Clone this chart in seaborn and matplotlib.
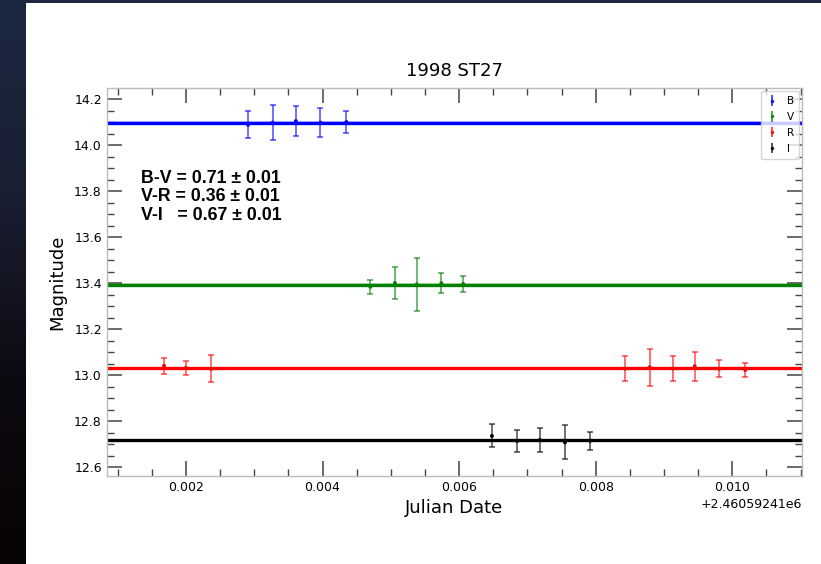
import numpy as np
import pandas as pd
import matplotlib
matplotlib.use("Agg")
import matplotlib.pyplot as plt
import seaborn as sns
from matplotlib.ticker import MultipleLocator

# Julian Date reference and time offsets (days) of each observation
JD0 = 2460592.41

b_t = [0.00291, 0.00327, 0.00361, 0.00397, 0.00435]
b_mag = [14.088, 14.097, 14.104, 14.097, 14.100]
b_err = [0.059, 0.075, 0.065, 0.062, 0.046]

v_t = [0.00470, 0.00506, 0.00538, 0.00574, 0.00606]
v_mag = [13.384, 13.400, 13.394, 13.399, 13.396]
v_err = [0.030, 0.071, 0.114, 0.044, 0.036]

r_t = [0.00168, 0.00200, 0.00237, 0.00843, 0.00879, 0.00913, 0.00945, 0.00981, 0.01019]
r_mag = [13.040, 13.031, 13.027, 13.028, 13.034, 13.028, 13.038, 13.027, 13.022]
r_err = [0.036, 0.031, 0.058, 0.053, 0.080, 0.056, 0.062, 0.037, 0.030]

i_t = [0.00648, 0.00685, 0.00718, 0.00755, 0.00792]
i_mag = [12.735, 12.713, 12.717, 12.707, 12.714]
i_err = [0.050, 0.049, 0.051, 0.074, 0.038]

# mean magnitude per filter
b_mean, v_mean, r_mean, i_mean = 14.097, 13.393, 13.030, 12.717

colour_lines = ["B-V = 0.71 ± 0.01", "V-R = 0.36 ± 0.01", "V-I   = 0.67 ± 0.01"]

sns.set_theme(style="ticks")
plt.rcParams["font.family"] = ["DejaVu Sans"]
plt.rcParams.update({"text.color": "black", "axes.labelcolor": "black",
                     "xtick.labelcolor": "black", "ytick.labelcolor": "black"})

fig = plt.figure(figsize=(8.21, 5.64), dpi=100)
fig.patch.set_facecolor("white")

# dark slide border on top and left
grad = np.linspace(0, 1, 256)[:, None]
cmap = matplotlib.colors.LinearSegmentedColormap.from_list(
    "border", ["#1c2842", "#1a1f33", "#0e0a12", "#070304"])
bl = fig.add_axes([0, 0, 25 / 821, 1])
bl.imshow(grad, aspect="auto", cmap=cmap, extent=[0, 1, 0, 1])
bl.axis("off")
bt = fig.add_axes([0, 1 - 3 / 564, 1, 3 / 564])
bt.imshow(np.zeros((1, 2)), aspect="auto", cmap=matplotlib.colors.ListedColormap(["#1c2842"]))
bt.axis("off")

ax = fig.add_axes([106.7 / 821, 1 - 476 / 564, (802.3 - 106.7) / 821, (476 - 88) / 564])

series = [
    ("B", b_t, b_mag, b_err, b_mean, "blue"),
    ("V", v_t, v_mag, v_err, v_mean, "green"),
    ("R", r_t, r_mag, r_err, r_mean, "red"),
    ("I", i_t, i_mag, i_err, i_mean, "black"),
]

handles = []
for name, t, m, e, mean, col in series:
    jd = JD0 + np.asarray(t)
    ax.axhspan(mean - 0.006, mean + 0.006, color=col, alpha=0.25, lw=0, zorder=1)
    ax.axhline(mean, color=col, lw=2.4, zorder=2)
    ax.errorbar(jd, m, yerr=e, fmt="none", ecolor=col, elinewidth=1.2,
                capsize=2, capthick=1.2, alpha=0.65, zorder=3, label=name)
    df = pd.DataFrame({"jd": jd, "mag": m})
    sns.scatterplot(data=df, x="jd", y="mag", color=col, s=8, edgecolor="none",
                    ax=ax, zorder=4, legend=False)
    handles.append(ax.errorbar([], [], yerr=[], fmt=".", color=col, ecolor=col,
                               markersize=3, elinewidth=1.2, capsize=2, alpha=0.8))

ax.set_xlim(JD0 + 0.00084, JD0 + 0.011025)
ax.set_ylim(12.561, 14.248)
ax.ticklabel_format(axis="x", useOffset=JD0)
ax.xaxis.set_major_locator(MultipleLocator(0.002))
ax.xaxis.set_minor_locator(MultipleLocator(0.0005))
ax.yaxis.set_major_locator(MultipleLocator(0.2))
ax.yaxis.set_minor_locator(MultipleLocator(0.05))

ax.tick_params(which="both", direction="in", top=True, right=True,
               bottom=True, left=True, color="#444444", labelsize=9,
               labelcolor="black")
ax.tick_params(which="major", length=11, width=1.1)
ax.tick_params(which="minor", length=5, width=1.0)
for s in ax.spines.values():
    s.set_color("#bbbbbb")
    s.set_linewidth(1.0)
ax.xaxis.get_offset_text().set_fontsize(9)
ax.xaxis.get_offset_text().set_color("black")

ax.set_title("1998 ST27", fontsize=13, pad=9)
ax.set_xlabel("Julian Date", fontsize=13, labelpad=4)
ax.set_ylabel("Magnitude", fontsize=13, labelpad=6)

for k, line in enumerate(colour_lines):
    ax.text(0.049, 0.768 - k * 0.048, line, transform=ax.transAxes,
            fontsize=12.8, fontweight="bold", family=["Liberation Sans", "DejaVu Sans"],
            va="center", ha="left")

leg = ax.legend(handles, [s[0] for s in series], loc="upper right", fontsize=7.5,
                frameon=True, borderaxespad=0.3, handlelength=1.2,
                labelspacing=0.55, borderpad=0.5)
leg.get_frame().set_edgecolor("#cccccc")

fig.savefig("out.png", dpi=100)
